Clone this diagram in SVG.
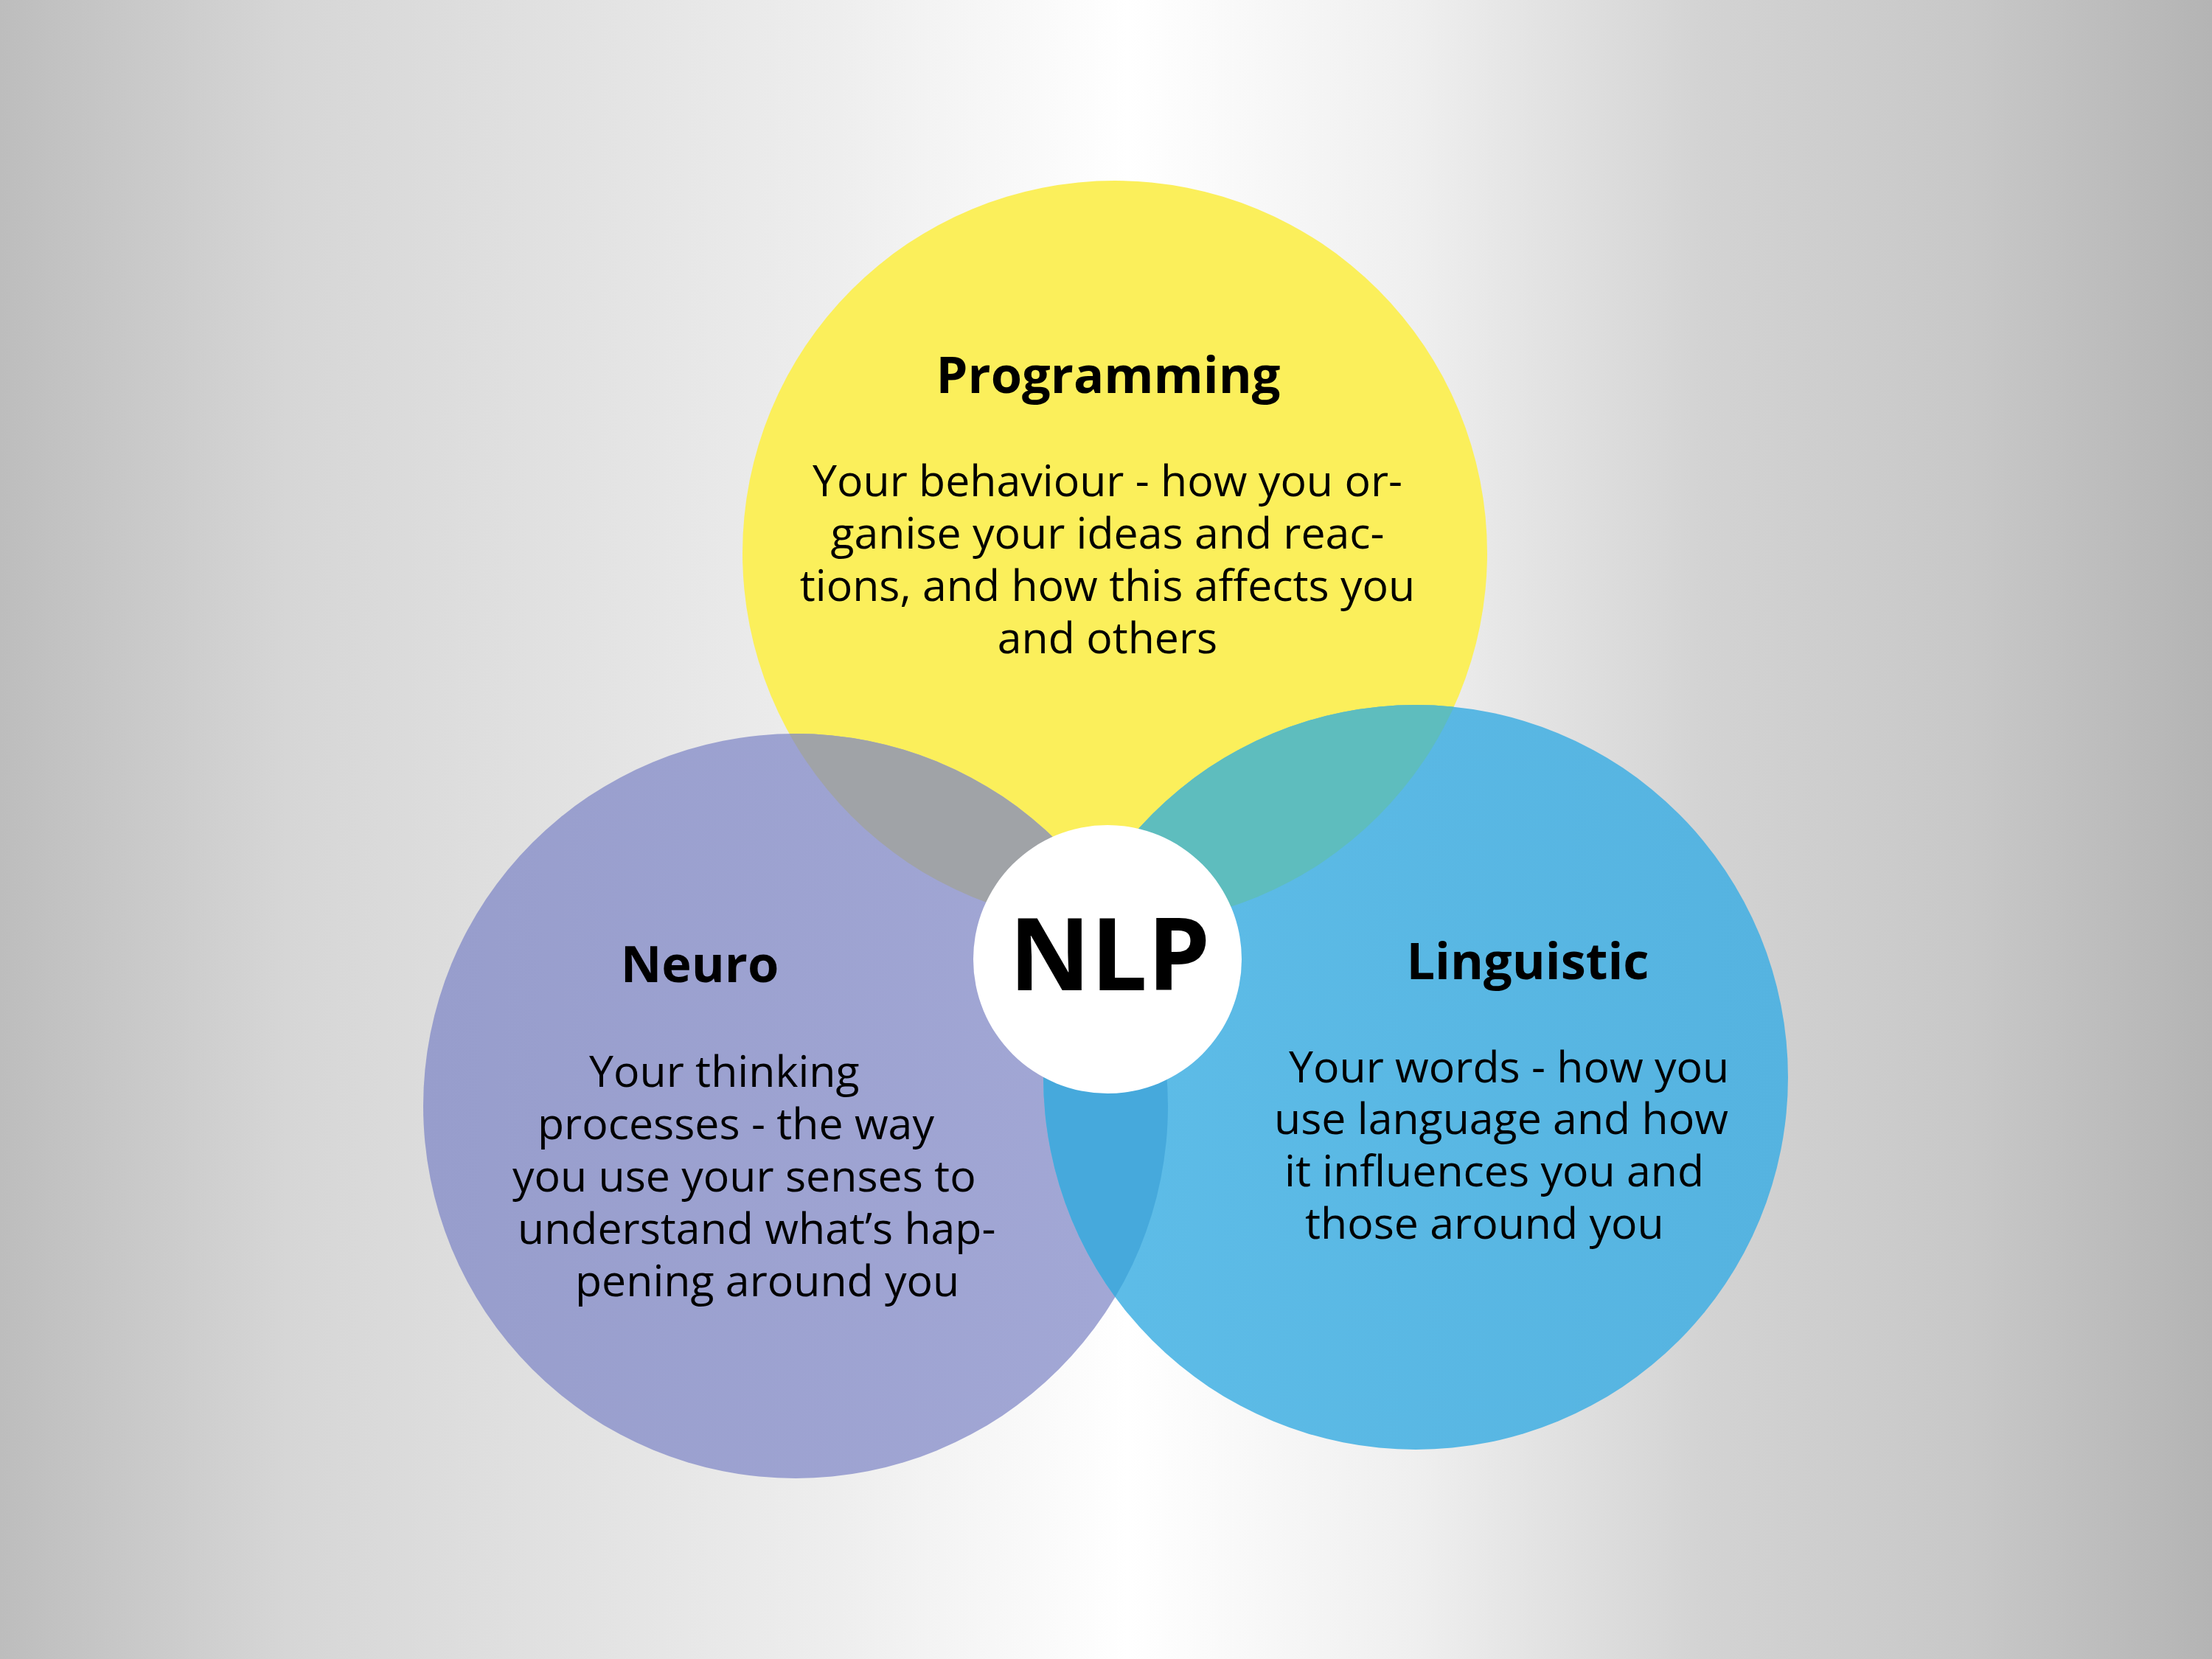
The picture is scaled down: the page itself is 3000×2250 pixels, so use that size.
<svg xmlns="http://www.w3.org/2000/svg" width="3000" height="2250" viewBox="0 0 3000 2250">
  <defs>
    <linearGradient id="bg" x1="0" y1="0" x2="1" y2="0">
      <stop offset="0" stop-color="#bdbdbd"/>
      <stop offset="0.13" stop-color="#d6d6d6"/>
      <stop offset="0.26" stop-color="#e2e2e2"/>
      <stop offset="0.38" stop-color="#eeeeee"/>
      <stop offset="0.51" stop-color="#ffffff"/>
      <stop offset="0.64" stop-color="#efefef"/>
      <stop offset="0.70" stop-color="#e2e2e2"/>
      <stop offset="0.77" stop-color="#d3d3d3"/>
      <stop offset="0.89" stop-color="#c8c8c8"/>
      <stop offset="1" stop-color="#b4b4b4"/>
    </linearGradient>
    <linearGradient id="purpleG" x1="0" y1="0" x2="1" y2="0">
      <stop offset="0" stop-color="#979dcc"/>
      <stop offset="1" stop-color="#a3a8d6"/>
    </linearGradient>
    <linearGradient id="blueG" x1="0" y1="0" x2="1" y2="0">
      <stop offset="0" stop-color="#5ebde8"/>
      <stop offset="1" stop-color="#55b3e0"/>
    </linearGradient>
    <clipPath id="clipY"><circle cx="1512" cy="750" r="505"/></clipPath>
    <clipPath id="clipP"><circle cx="1079" cy="1500" r="505"/></clipPath>
    <style>
      .title { font-family: "Open Sans", "Noto Sans", "Liberation Sans", sans-serif; font-weight: 700; font-size: 68.5px; fill: #000; }
      .body { font-family: "Open Sans", "Noto Sans", "Liberation Sans", sans-serif; font-weight: 400; font-size: 59px; fill: #000; }
      .nlp { font-family: "Open Sans", "Noto Sans", "Liberation Sans", sans-serif; font-weight: 700; font-size: 136px; fill: #000; }
    </style>
  </defs>
  <rect x="0" y="0" width="3000" height="2250" fill="url(#bg)"/>

  <g id="programming">
    <circle cx="1512" cy="750" r="505" fill="#fbef5b"/>
  </g>
  <g id="neuro">
    <circle cx="1079" cy="1500" r="505" fill="url(#purpleG)"/>
  </g>
  <g id="linguistic">
    <circle cx="1920" cy="1461" r="505" fill="url(#blueG)"/>
  </g>
  <g id="overlaps">
    <g clip-path="url(#clipY)">
      <circle cx="1079" cy="1500" r="505" fill="#a0a3a7"/>
      <circle cx="1920" cy="1461" r="505" fill="#5ebdbe"/>
    </g>
    <g clip-path="url(#clipP)">
      <circle cx="1920" cy="1461" r="505" fill="#46a9dc"/>
    </g>
  </g>
  <g id="nlp">
    <circle cx="1502" cy="1301" r="182" fill="#ffffff"/>
    <text class="nlp" x="1505" y="1343" text-anchor="middle">NLP</text>
  </g>

  <g id="programming-text">
    <text class="title" x="1503" y="533" text-anchor="middle">Programming</text>
    <text class="body" x="1502" y="673" text-anchor="middle">Your behaviour - how you or-</text>
    <text class="body" x="1502" y="744" text-anchor="middle">ganise your ideas and reac-</text>
    <text class="body" x="1502" y="815" text-anchor="middle">tions, and how this affects you</text>
    <text class="body" x="1502" y="886" text-anchor="middle">and others</text>
  </g>
  <g id="neuro-text">
    <text class="title" x="949" y="1332" text-anchor="middle">Neuro</text>
    <text class="body" x="799" y="1474">Your thinking</text>
    <text class="body" x="729" y="1545">processes - the way</text>
    <text class="body" x="695" y="1616">you use your senses to</text>
    <text class="body" x="702" y="1687">understand what’s hap-</text>
    <text class="body" x="780" y="1758">pening around you</text>
  </g>
  <g id="linguistic-text">
    <text class="title" x="2072" y="1328" text-anchor="middle">Linguistic</text>
    <text class="body" x="1748" y="1468">Your words - how you</text>
    <text class="body" x="1728" y="1538">use language and how</text>
    <text class="body" x="1742" y="1609">it influences you and</text>
    <text class="body" x="1770" y="1680">those around you</text>
  </g>
  <g id="connectors"></g>
</svg>
